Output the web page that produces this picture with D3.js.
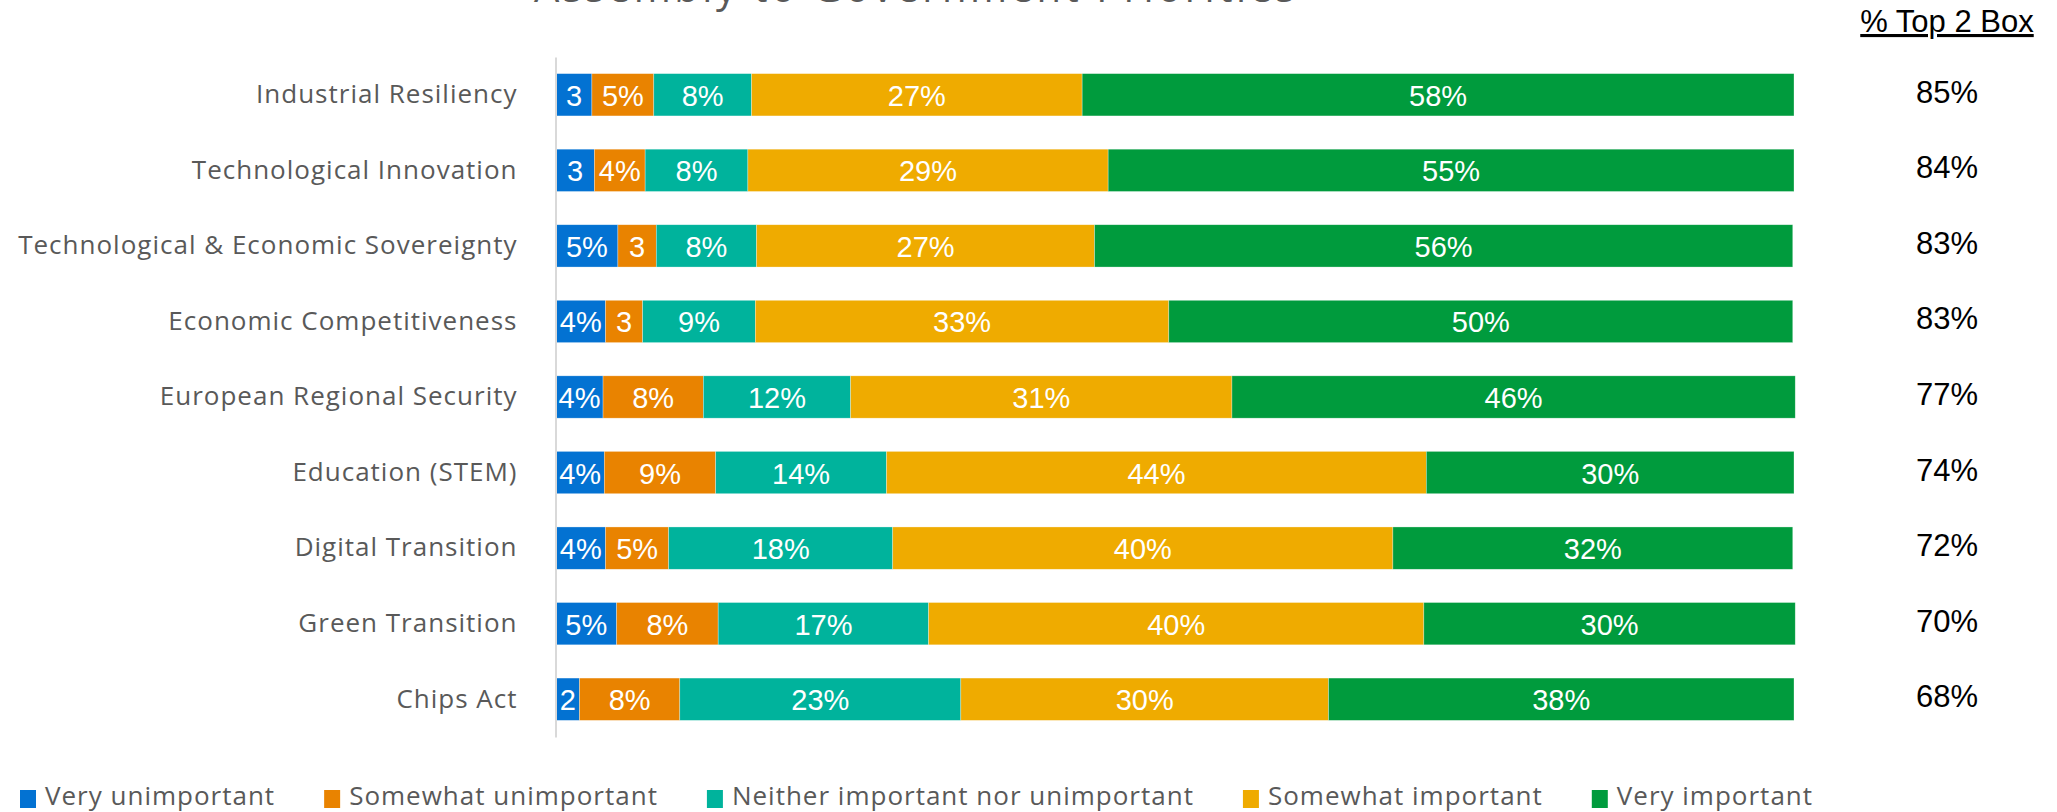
<!DOCTYPE html>
<html><head><meta charset="utf-8">
<script src="https://cdn.jsdelivr.net/npm/d3@7"></script>
<style>
html,body{margin:0;padding:0;background:#fff;}
svg{display:block;}
</style></head>
<body>
<svg id="chart" width="2057" height="812"></svg>
<script>
const title = "Assembly to Government Priorities";
const categories = ["Industrial Resiliency","Technological Innovation","Technological & Economic Sovereignty","Economic Competitiveness","European Regional Security","Education (STEM)","Digital Transition","Green Transition","Chips Act"];
const seriesNames = ["Very unimportant","Somewhat unimportant","Neither important nor unimportant","Somewhat important","Very important"];
const seriesColors = ["#0372d2","#e98300","#00b39c","#efab00","#009b3d"];
const veryUnimportant       = [2.9, 3.1, 5.0, 4.0, 3.8, 3.9, 4.0, 4.9, 1.9];
const somewhatUnimportant   = [5.0, 4.1, 3.1, 3.0, 8.1, 9.0, 5.1, 8.2, 8.1];
const neither               = [7.9, 8.3, 8.1, 9.1, 11.9, 13.8, 18.1, 17.0, 22.7];
const somewhatImportant     = [26.7, 29.1, 27.3, 33.4, 30.8, 43.6, 40.4, 40.0, 29.7];
const veryImportant         = [57.5, 55.4, 56.4, 50.4, 45.5, 29.7, 32.3, 30.0, 37.6];
const top2Box = [85, 84, 83, 83, 77, 74, 72, 70, 68];
const top2Header = "% Top 2 Box";

const seriesValues = [veryUnimportant, somewhatUnimportant, neither, somewhatImportant, veryImportant];
const table = categories.map((c,i)=>{const o={cat:c}; seriesNames.forEach((s,j)=>o[s]=seriesValues[j][i]); return o;});
const stacked = d3.stack().keys(seriesNames)(table);

const svg = d3.select("#chart");
const x = d3.scaleLinear().domain([0,100]).range([556,1794]);
const y = d3.scaleBand().domain(categories).range([57,737]).paddingInner(0.44).paddingOuter(0.22);

// title (cut off at top, as in the reference)
svg.append("text").attr("x",916).attr("y",2).attr("text-anchor","middle")
  .attr("font-family","Open Sans").attr("font-size",40).attr("letter-spacing",3.5).attr("fill","#595959").text(title);

// bars
const g = svg.append("g");
stacked.forEach((layer,j)=>{
  g.selectAll(null).data(layer).enter().append("rect")
    .attr("x",d=>x(d[0])).attr("width",d=>x(d[1])-x(d[0]))
    .attr("y",d=>y(d.data.cat)).attr("height",y.bandwidth())
    .attr("fill",seriesColors[j]).attr("stroke","#ffffff").attr("stroke-opacity",0.5).attr("stroke-width",0.6);
});
stacked.forEach((layer,j)=>{
  g.selectAll(null).data(layer).enter().append("text")
    .attr("x",d=>(x(d[0])+x(d[1]))/2).attr("y",d=>y(d.data.cat)+y.bandwidth()/2+11)
    .attr("text-anchor","middle").attr("font-family","Liberation Sans, Arial").attr("font-size",29)
    .attr("fill","#fff").text(d=>{const v=Math.round(d[1]-d[0]); return v<4? String(v): v+"%";});
});

// category axis
svg.append("g").attr("transform",`translate(${x(0)-0.5},0)`)
  .call(d3.axisLeft(y).tickSize(0).tickPadding(38).tickFormat(d=>d))
  .call(a=>{a.select(".domain").attr("stroke","#d9d9d9").attr("stroke-width",2);
    a.selectAll("text").attr("font-family","Open Sans").attr("font-size",26).attr("letter-spacing",1)
      .attr("fill","#595959").attr("dy","0.32em");});

// right column
svg.append("text").attr("x",1947).attr("y",32).attr("text-anchor","middle")
  .attr("font-family","Liberation Sans, Arial").attr("font-size",31).attr("fill","#000")
  .attr("text-decoration","underline").text(top2Header);
svg.selectAll(null).data(categories).enter().append("text")
  .attr("x",1947).attr("y",(d)=>y(d)+y.bandwidth()/2+8)
  .attr("text-anchor","middle").attr("font-family","Liberation Sans, Arial").attr("font-size",31).attr("fill","#000")
  .text((d,i)=>top2Box[i]+"%");

// legend
const leg = svg.append("g");
let lx = 20;
seriesNames.forEach((s,j)=>{
  leg.append("rect").attr("x",lx).attr("y",790).attr("width",16).attr("height",18).attr("fill",seriesColors[j]);
  const t = leg.append("text").attr("x",lx+25).attr("y",805).attr("font-family","Open Sans").attr("font-size",26)
    .attr("letter-spacing",1).attr("fill","#595959").text(s);
  lx += 25 + t.node().getComputedTextLength() + 49;
});
</script>
</body></html>
